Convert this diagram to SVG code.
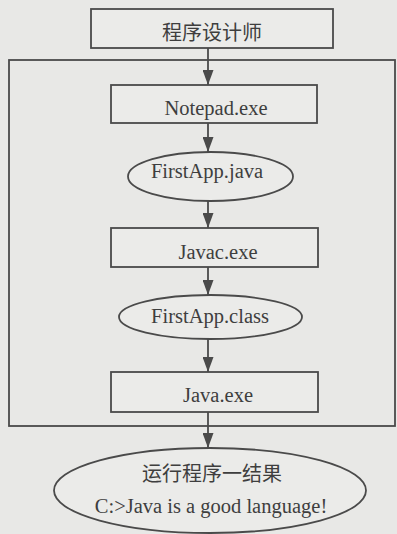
<svg xmlns="http://www.w3.org/2000/svg" width="397" height="534" viewBox="0 0 397 534">
<style>
.bg{fill:#e8e8e6}
.n{fill:#ebebe9;stroke:#4a4a4a;stroke-width:1.8}
.frame{fill:none;stroke:#4a4a4a;stroke-width:1.8}
.c{stroke:#4a4a4a;stroke-width:1.8;fill:none}
.t{font-family:"Liberation Serif","Times New Roman",serif;font-size:20.5px;fill:#3e3e3e;text-anchor:middle}
.z{font-family:"Noto Sans CJK SC","Noto Sans",sans-serif;font-size:20px;fill:#3e3e3e;text-anchor:middle}
</style>
<defs>
<marker id="ah" viewBox="0 0 15 11" refX="15" refY="5.5" markerWidth="15" markerHeight="11" markerUnits="userSpaceOnUse" orient="auto">
<path d="M0,0 L15,5.5 L0,11 Z" fill="#4a4a4a"/>
</marker>
</defs>
<rect class="bg" x="0" y="0" width="397" height="534"/>
<rect class="frame" x="9" y="60" width="386" height="366"/>
<g id="connectors">
<line class="c" x1="208" y1="48" x2="208" y2="85" marker-end="url(#ah)"/>
<line class="c" x1="208" y1="123" x2="208" y2="152" marker-end="url(#ah)"/>
<line class="c" x1="208" y1="201" x2="208" y2="228" marker-end="url(#ah)"/>
<line class="c" x1="208" y1="267" x2="208" y2="295" marker-end="url(#ah)"/>
<line class="c" x1="208" y1="339" x2="208" y2="372" marker-end="url(#ah)"/>
<line class="c" x1="208" y1="412" x2="208" y2="448" marker-end="url(#ah)"/>
</g>
<g id="programmer">
<rect class="n" x="91" y="9" width="242" height="39"/>
<text class="z" x="212" y="40">程序设计师</text>
</g>
<g id="notepad">
<rect class="n" x="111" y="85" width="206" height="38"/>
<text class="t" x="216" y="115">Notepad.exe</text>
</g>
<g id="firstapp-java">
<ellipse class="n" cx="210.5" cy="176.5" rx="82.5" ry="24.5"/>
<text class="t" x="207" y="178">FirstApp.java</text>
</g>
<g id="javac">
<rect class="n" x="111" y="228" width="207" height="39"/>
<text class="t" x="218" y="259">Javac.exe</text>
</g>
<g id="firstapp-class">
<ellipse class="n" cx="210.5" cy="317" rx="91.5" ry="22"/>
<text class="t" x="210" y="323">FirstApp.class</text>
</g>
<g id="java">
<rect class="n" x="111" y="372" width="207" height="40"/>
<text class="t" x="218" y="402">Java.exe</text>
</g>
<g id="result">
<ellipse class="n" cx="210" cy="490.5" rx="156" ry="42.5"/>
<text class="z" x="212" y="481">运行程序一结果</text>
<text class="t" x="211" y="513">C:&gt;Java is a good language!</text>
</g>
</svg>
